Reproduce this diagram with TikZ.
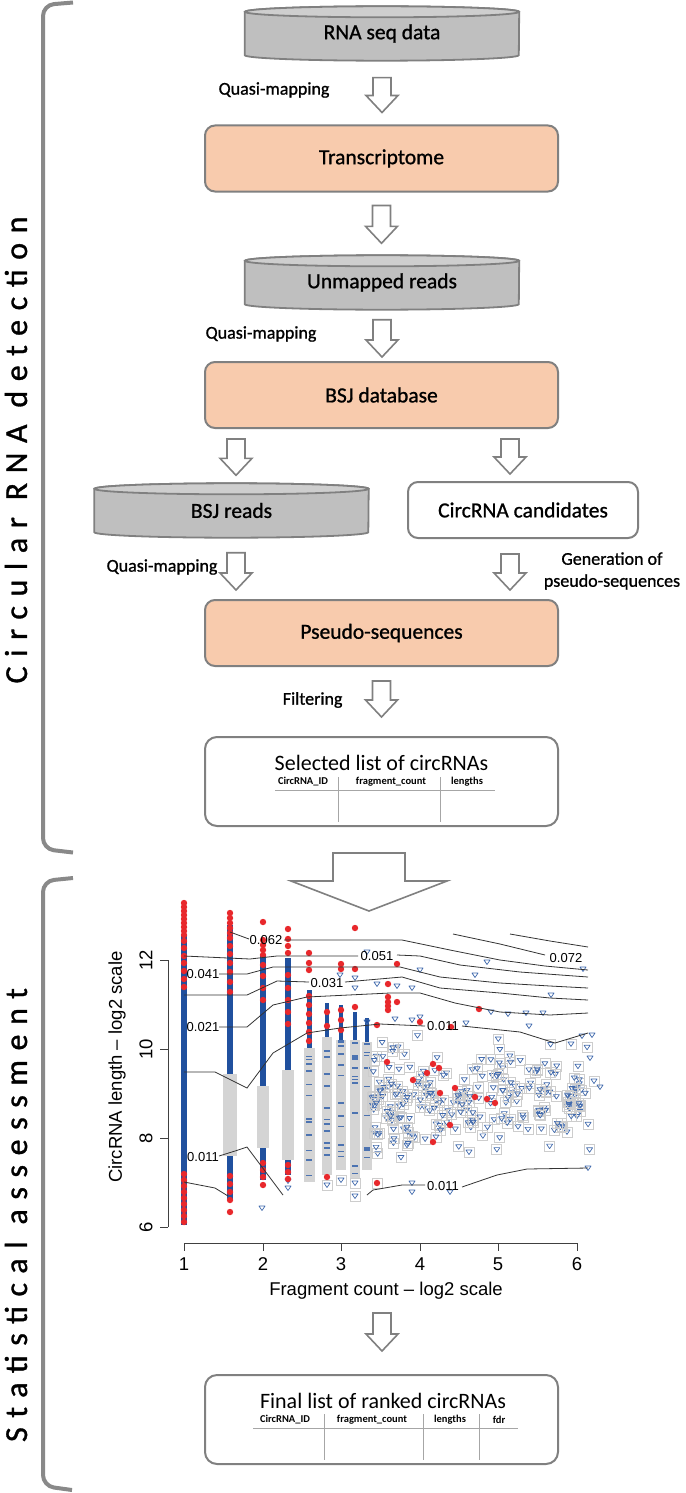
\documentclass[tikz,border=0pt]{standalone}
\usepackage{fontspec}
\setmainfont{Carlito}
\newfontfamily\plotfont{Liberation Sans}
\newfontfamily\labelfont[FakeBold=1]{Carlito}
\usetikzlibrary{calc,backgrounds}

\definecolor{peach}{RGB}{248,203,173}
\definecolor{edgegray}{RGB}{128,128,128}
\definecolor{drumgray}{RGB}{191,191,191}
\definecolor{drumtop}{RGB}{206,206,206}
\definecolor{bracegray}{RGB}{137,137,137}
\definecolor{ptblue}{RGB}{32,80,158}
\definecolor{ptred}{RGB}{232,40,44}
\definecolor{bargray}{RGB}{212,212,212}
\definecolor{sqgray}{RGB}{205,205,205}

\tikzset{
  boxtext/.style={font=\labelfont\fontsize{21.5}{24}\selectfont},
  procbox/.style={boxtext, draw=edgegray, line width=2pt, fill=peach, rounded corners=10pt, minimum width=353pt, minimum height=66pt},
  candbox/.style={boxtext, draw=edgegray, line width=2pt, fill=white, rounded corners=10pt, minimum width=230pt, minimum height=56pt},
  listbox/.style={draw=edgegray, line width=2pt, fill=white, rounded corners=12pt, minimum width=353pt, minimum height=89pt},
  listtitle/.style={font=\fontsize{22}{24}\selectfont},
  drumtext/.style={boxtext, minimum width=274pt, minimum height=54pt, inner sep=0pt},
  drumside/.style={draw=edgegray, line width=1.8pt, fill=drumgray},
  drumlid/.style={draw=edgegray, line width=1.8pt, fill=drumtop},
  stepnote/.style={font=\labelfont\fontsize{18}{22}\selectfont},
  colhead/.style={font=\bfseries\fontsize{10.5}{12}\selectfont, inner sep=1pt},
  tableline/.style={draw=gray!70, line width=0.8pt},
  hollow/.style={draw=edgegray, line width=1.6pt, fill=white, line join=miter},
  flowarrow/.style={to path={let \p1=(\tikztostart), \p2=(\tikztotarget) in
      (\x1-9pt,\y1) -- (\x1+9pt,\y1) -- (\x1+9pt,\y2+17pt) -- (\x1+16pt,\y2+17pt)
      -- (\x1,\y2) -- (\x1-16pt,\y2+17pt) -- (\x1-9pt,\y2+17pt) -- cycle}},
  bigarrow/.style={to path={let \p1=(\tikztostart), \p2=(\tikztotarget) in
      (\x1-36pt,\y1) -- (\x1+36pt,\y1) -- (\x1+36pt,\y2+30pt) -- (\x1+78pt,\y2+30pt)
      -- (\x1,\y2) -- (\x1-78pt,\y2+30pt) -- (\x1-36pt,\y2+30pt) -- cycle}},
  brace/.style={draw=bracegray, line width=4pt, rounded corners=11pt},
  sidetitle/.style={font=\labelfont\fontsize{32}{34}\selectfont\addfontfeature{LetterSpace=30}, rotate=90},
  axisline/.style={draw=black!75, line width=0.9pt},
  ticklab/.style={font=\plotfont\fontsize{18.5}{20}\selectfont, inner sep=0pt},
  axistitle/.style={font=\plotfont\fontsize{18.5}{20}\selectfont, inner sep=0pt},
  contour/.style={draw=black!80, line width=0.8pt},
  clab/.style={font=\plotfont\fontsize{13}{14}\selectfont, inner sep=0pt},
  sqbox/.style={draw=sqgray, line width=0.8pt},
  tripoint/.style={draw=ptblue!85, line width=0.7pt, line join=round},
  reddot/.style={fill=ptred}
}

\newcommand{\dbdrum}[1]{%
  \begin{scope}[on background layer]
    \draw[drumside] ([yshift=-5.5pt]#1.north west) -- ([yshift=5.5pt]#1.south west)
      arc[start angle=180, end angle=360, x radius=137pt, y radius=5.5pt]
      -- ([yshift=-5.5pt]#1.north east)
      arc[start angle=0, end angle=180, x radius=137pt, y radius=5.5pt] -- cycle;
    \draw[drumlid] ([yshift=-5.5pt]#1.north) ellipse [x radius=137pt, y radius=5.5pt];
  \end{scope}}

\begin{document}
\begin{tikzpicture}[x=1pt,y=-1pt]
        \useasboundingbox (0,0) rectangle (685,1493);
        \begin{scope}[on background layer]
          \fill[white] (0,0) rectangle (685,1493);
        \end{scope}

        % side brackets
        \draw[brace] (73,2.5) -- (43,5) -- (43,849) -- (73,852.5);
        \draw[brace] (73,878) -- (43,881) -- (43,1486) -- (72,1490);
        \node[sidetitle] (detlab) at (16,450) {Circular RNA detection};
        \node[sidetitle] (statlab) at (16,1215) {Statistical assessment};

        % detection flow
        \node[drumtext] (rna) at (382,33.5) {RNA seq data};
        \dbdrum{rna}
        \node[procbox] (tr) at (381.5,158.5) {Transcriptome};
        \node[drumtext] (unm) at (382,282.5) {Unmapped reads};
        \dbdrum{unm}
        \node[procbox] (bsjdb) at (381.5,395) {BSJ database};
        \node[drumtext] (bsjr) at (231.5,510.5) {BSJ reads};
        \dbdrum{bsjr}
        \node[candbox] (cand) at (523,510) {CircRNA candidates};
        \node[procbox] (pseudo) at (381.5,633) {Pseudo-sequences};
        \node[listbox] (sel) at (381.5,781.5) {};

        \draw[hollow] ([yshift=-17pt]rna.south) to[flowarrow] ([yshift=12pt]tr.north);
        \draw[hollow] ([yshift=-13pt]tr.south) to[flowarrow] ([yshift=12pt]unm.north);
        \draw[hollow] ([yshift=-10pt]unm.south) to[flowarrow] ([yshift=4pt]bsjdb.north);
        \draw[hollow] ([xshift=-145.5pt,yshift=-10pt]bsjdb.south) to[flowarrow] ([yshift=8pt]bsjr.north);
        \draw[hollow] ([xshift=128.5pt,yshift=-10pt]bsjdb.south) to[flowarrow] ([yshift=7pt]cand.north);
        \draw[hollow] ([xshift=4.5pt,yshift=-15pt]bsjr.south) to[flowarrow] ([yshift=9pt]pseudo.north);
        \draw[hollow] ([xshift=-13pt,yshift=-15pt]cand.south) to[flowarrow] ([yshift=9pt]pseudo.north);
        \draw[hollow] ([yshift=-14pt]pseudo.south) to[flowarrow] ([yshift=19pt]sel.north);

        \node[stepnote, anchor=east] (qm1) at (333,90) {Quasi-mapping};
        \node[stepnote, anchor=east] (qm2) at (320,334) {Quasi-mapping};
        \node[stepnote, anchor=east] (qm3) at (221,567) {Quasi-mapping};
        \node[stepnote, align=center] (gen) at (612,571) {Generation of\\pseudo-sequences};
        \node[stepnote, anchor=east] (filt) at (346,700) {Filtering};

        \node[listtitle] (seltitle) at (381.5,763) {Selected list of circRNAs};
        \node[colhead] (selh1) at (303,782) {CircRNA\_ID};
        \node[colhead] (selh2) at (391,782) {fragment\_count};
        \node[colhead] (selh3) at (467,782) {lengths};
        \draw[tableline] (275,790) -- (495,790);
        \draw[tableline] (338,777) -- (338,822);
        \draw[tableline] (440,777) -- (440,822);

        \coordinate (plottop) at (369,911);
        \draw[hollow] ([xshift=-12.5pt,yshift=-26pt]sel.south) to[bigarrow] (plottop);

        % statistical plot
        \foreach \cx/\ct/\cb/\w in {184/935/1225/6pt, 230/925/1200/6pt, 263/955/1180/6pt, 288/958/1175/6pt,
            309/990/1050/5pt, 327/1003/1040/4pt, 341/1005/1040/4pt, 355/1012/1042/4pt, 367/1018/1044/4pt}
          \draw[ptblue, line width=\w] (\cx,\ct) -- (\cx,\cb);
        \foreach \cx/\gt/\gb/\gw in {230/1074/1156/14, 263/1086/1148/12, 288/1070/1160/12, 309/1048/1182/11,
            327/1037/1175/10, 341/1040/1170/10, 355/1040/1178/10, 367/1042/1170/10}
          \fill[bargray] (\cx-\gw/2,\gt) rectangle (\cx+\gw/2,\gb);
        \pgfmathsetseed{17}
        \foreach \cx/\gt/\gb in {309/1048/1182, 327/1037/1175, 341/1040/1170, 355/1040/1178, 367/1042/1170}
          \foreach \k in {1,...,12} {
            \pgfmathsetmacro\dy{\gt+(\gb-\gt)*rnd}
            \draw[ptblue!80, line width=1.5pt] (\cx-3,\dy) -- (\cx+3,\dy);
          }
        \foreach \k in {1,...,230} {
          \pgfmathsetmacro\sx{372+222*pow(0.001+rnd,1.35)}
          \pgfmathsetmacro\sy{1096+32*(rand+rand)}
          \draw[sqbox] (\sx-5,\sy-5) rectangle (\sx+5,\sy+5);
          \draw[tripoint] (\sx-3,\sy-2) -- (\sx+3,\sy-2) -- (\sx,\sy+2.5) -- cycle;
        }
        \foreach \tx/\ty in {367/952, 340/975, 355/978, 355/988, 377/984, 397/986, 412/988, 420/970, 475/975,
            487/962, 551/995, 583/969, 491/1012, 508/1014, 526/1013, 543/1013, 466/1023, 529/1026, 582/1036,
            592/1035, 367/1022, 395/1019, 412/1020, 420/1017, 590/1058, 600/1087, 412/1183, 412/1192,
            450/1192, 588/1168, 262/1208, 288/1181, 288/1188, 327/1185, 341/1180, 355/1183, 355/1196}
          \draw[tripoint] (\tx-3,\ty-2) -- (\tx+3,\ty-2) -- (\tx,\ty+2.5) -- cycle;
        \foreach \tx/\ty in {327/1185, 341/1180, 355/1183, 355/1196, 377/1183}
          \draw[sqbox] (\tx-5,\ty-5) rectangle (\tx+5,\ty+5);

        \foreach \ry in {903,907,...,935, 941,948,956,963,971,979,987, 1174,1180,...,1222}
          \fill[reddot] (184,\ry) circle[radius=3.2pt];
        \foreach \ry in {913,918,...,938, 946,954,963,972,982,992, 1176,1184,1192,1200,1212}
          \fill[reddot] (230,\ry) circle[radius=3.2pt];
        \foreach \ry in {922,940,945,950,955,965,976,988,1000,1163,1170,1177,1185}
          \fill[reddot] (263,\ry) circle[radius=3.2pt];
        \foreach \ry in {929,939,946,953,975,988,1000,1012,1024,1165,1172,1179}
          \fill[reddot] (288,\ry) circle[radius=3.2pt];
        \foreach \ry in {953,963,970,996,1005,1014,1023,1032,1041}
          \fill[reddot] (309,\ry) circle[radius=3.2pt];
        \foreach \rx/\ry in {327/1177, 327/1012, 327/1026, 341/964, 341/969, 341/1010, 341/1020, 341/1030,
            355/928, 355/969, 355/1007, 397/964, 388/984, 388/997, 388/1002, 388/1006, 388/1010, 397/1002,
            479/1009, 377/1025, 420/1022, 451/1027, 377/1183, 387/1062, 413/1080, 427/1073, 433/1064,
            439/1068, 440/1093, 455/1088, 475/1097, 487/1099, 495/1103, 450/1125, 433/1142}
          \fill[reddot] (\rx,\ry) circle[radius=3.2pt];

        % contour lines
        \draw[contour] (230,932) -- (249,939);
        \draw[contour] (284,940) -- (402,940) -- (450,950) -- (500,960) -- (545,966) -- (588,970);
        \draw[contour] (184,956) -- (250,959) -- (277,956) -- (358,956);
        \draw[contour] (397,955) -- (420,956) -- (460,965) -- (520,972) -- (588,977);
        \draw[contour] (219,974) -- (247,974) -- (273,967) -- (400,967) -- (440,977) -- (500,983) -- (550,986) -- (588,988);
        \draw[contour] (184,995) -- (247,995) -- (277,981) -- (309,982);
        \draw[contour] (345,982) -- (402,977) -- (440,988) -- (500,993) -- (550,998) -- (588,1000);
        \draw[contour] (219,1027) -- (247,1027) -- (273,1005) -- (307,997) -- (390,993) -- (420,993) -- (455,1003) -- (500,1012) -- (550,1015) -- (588,1013);
        \draw[contour] (184,1072) -- (215,1072) -- (247,1088) -- (273,1053) -- (307,1033) -- (340,1028) -- (380,1024) -- (425,1026);
        \draw[contour] (462,1026) -- (520,1032) -- (555,1043) -- (588,1033);
        \draw[contour] (219,1156) -- (235,1151) -- (247,1147) -- (283,1195);
        \draw[contour] (184,1182) -- (215,1188) -- (228,1196);
        \draw[contour] (367,1195) -- (373,1190) -- (402,1185) -- (425,1185);
        \draw[contour] (462,1187) -- (497,1175) -- (527,1169) -- (588,1168);
        \draw[contour] (453,934) -- (500,944) -- (545,955);
        \draw[contour] (510,934) -- (550,941) -- (588,947);
        \node[clab] (c062) at (266,940) {0.062};
        \node[clab] (c051) at (377,956) {0.051};
        \node[clab] (c072) at (566,958) {0.072};
        \node[clab] (c041) at (203,974) {0.041};
        \node[clab] (c031) at (327,983) {0.031};
        \node[clab] (c021) at (203,1027) {0.021};
        \node[clab] (c011a) at (443,1026) {0.011};
        \node[clab] (c011b) at (203,1157) {0.011};
        \node[clab] (c011c) at (443,1186) {0.011};

        % axes
        \draw[axisline] (168,960) -- (168,1227);
        \foreach \yy/\lab in {960/12, 1049/10, 1138/8, 1227/6} {
          \draw[axisline] (168,\yy) -- (160,\yy);
          \node[ticklab, rotate=90] (ytick\lab) at (146,\yy) {\lab};
        }
        \draw[axisline] (184,1243) -- (577,1243);
        \foreach \xx/\lab in {184/1, 263/2, 341/3, 420/4, 498/5, 577/6} {
          \draw[axisline] (\xx,1243) -- (\xx,1251);
          \node[ticklab] (xtick\lab) at (\xx,1264) {\lab};
        }
        \node[axistitle] (xlab) at (386,1291) {Fragment count \textendash{} log2 scale};
        \node[axistitle, rotate=90] (ylab) at (117,1067) {CircRNA length \textendash{} log2 scale};

        % final list
        \node[listbox] (final) at (381.5,1419.5) {};
        \draw[hollow] ([xshift=-4pt,yshift=-22pt]xlab.center) to[flowarrow] ([yshift=23pt]final.north);
        \node[listtitle] (fintitle) at (383,1401) {Final list of ranked circRNAs};
        \node[colhead] (finh1) at (285,1420) {CircRNA\_ID};
        \node[colhead] (finh2) at (372,1420) {fragment\_count};
        \node[colhead] (finh3) at (450,1420) {lengths};
        \node[colhead] (finh4) at (499,1420) {fdr};
        \draw[tableline] (253,1428) -- (518,1428);
        \draw[tableline] (324,1414) -- (324,1460);
        \draw[tableline] (423,1414) -- (423,1460);
        \draw[tableline] (479,1414) -- (479,1460);
    \end{tikzpicture}
\end{document}
